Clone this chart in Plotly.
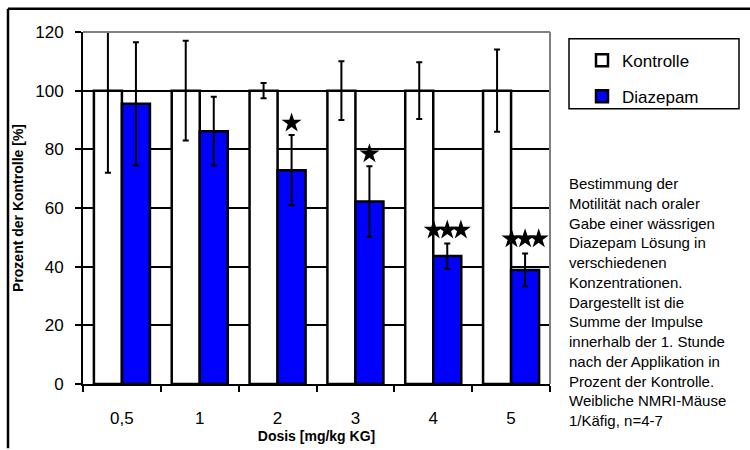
import plotly.graph_objects as go

# ---- data ----
categories = ["0,5", "1", "2", "3", "4", "5"]
kontrolle = [100, 100, 100, 100, 100, 100]
kontrolle_err = [28, 17, 2.6, 10, 9.7, 14]
diazepam = [95.5, 86.2, 72.9, 62.2, 43.6, 38.9]
diazepam_err = [21, 11.7, 12, 12, 4.3, 5.6]
star_count = [0, 0, 1, 1, 3, 3]
star_y = [None, None, 89, 78.5, 52.5, 49.5]
y_ticks = [0, 20, 40, 60, 80, 100, 120]
note_lines = [
    "Bestimmung der",
    "Motilität nach oraler",
    "Gabe einer wässrigen",
    "Diazepam Lösung in",
    "verschiedenen",
    "Konzentrationen.",
    "Dargestellt ist die",
    "Summe der Impulse",
    "innerhalb der 1. Stunde",
    "nach der Applikation in",
    "Prozent der Kontrolle.",
    "Weibliche NMRI-Mäuse",
    "1/Käfig, n=4-7",
]

W, H = 750, 450
ML, MR, MT, MB = 83, 200, 32, 56
PW, PH = W - ML - MR, H - MT - MB


def px(x):
    return (x - ML) / PW


def py(y):
    return (H - MB - y) / PH


n = len(categories)
xs = list(range(n))
FONT = "Liberation Sans, Arial, sans-serif"

fig = go.Figure()
fig.add_trace(go.Bar(
    x=xs, y=kontrolle, name="Kontrolle", legendgroup="k",
    marker=dict(color="white", line=dict(color="black", width=2.5)),
    error_y=dict(type="data", array=kontrolle_err, color="black", thickness=2, width=3),
))
fig.add_trace(go.Bar(
    x=xs, y=diazepam, name="Diazepam", legendgroup="d",
    marker=dict(color="#0000FF", line=dict(color="black", width=2.5)),
    error_y=dict(type="data", array=diazepam_err, color="black", thickness=2, width=3),
))

# significance stars above the Diazepam bars (offset = half a bar, stars side by side)
bar_off = 0.18
star_step = 0.175
sx, sy = [], []
for i, (c, yv) in enumerate(zip(star_count, star_y)):
    for k in range(c):
        sx.append(i + bar_off + (k - (c - 1) / 2) * star_step)
        sy.append(yv)
fig.add_trace(go.Scatter(
    x=sx, y=sy, mode="markers",
    marker=dict(symbol="star", size=15, color="black", line=dict(width=0)),
    showlegend=False, hoverinfo="skip",
))

fig.update_layout(
    width=W, height=H,
    margin=dict(l=ML, r=MR, t=MT, b=MB),
    paper_bgcolor="white", plot_bgcolor="white",
    barmode="group", bargap=0.28, bargroupgap=0,
    font=dict(family=FONT, color="black"),
    showlegend=True,
    legend=dict(
        x=px(582), y=py(43), xanchor="left", yanchor="top",
        font=dict(family=FONT, size=17, color="black"),
        bgcolor="rgba(0,0,0,0)", borderwidth=0,
        tracegroupgap=11, traceorder="grouped",
    ),
    xaxis=dict(
        range=[-0.5, n - 0.5], tickmode="array", tickvals=xs, ticktext=categories,
        ticks="", showgrid=False, zeroline=False,
        showline=True, linecolor="black", linewidth=2,
        tickfont=dict(family=FONT, size=17, color="black"),
        ticklabelstandoff=18,
        minor=dict(tickmode="array", tickvals=[i - 0.5 for i in range(n + 1)],
                   ticks="outside", ticklen=6, tickwidth=2, tickcolor="black", showgrid=False),
        title=dict(text="<b>Dosis [mg/kg KG]</b>", font=dict(family=FONT, size=14, color="black"), standoff=0),
    ),
    yaxis=dict(
        range=[0, 120], tickmode="array", tickvals=y_ticks,
        ticks="outside", ticklen=6, tickwidth=2, tickcolor="black",
        showgrid=True, gridcolor="black", gridwidth=1.5, zeroline=False,
        showline=True, linecolor="black", linewidth=2,
        tickfont=dict(family=FONT, size=17, color="black"),
        ticklabelstandoff=8,
        title=dict(text="<b>Prozent der Kontrolle [%]</b>", font=dict(family=FONT, size=14, color="black"), standoff=8),
    ),
)

shapes = [
    dict(type="line", xref="paper", yref="paper", x0=0, x1=1, y0=1, y1=1, line=dict(color="#808080", width=2), layer="above"),
    dict(type="line", xref="paper", yref="paper", x0=1, x1=1, y0=0, y1=1, line=dict(color="#808080", width=2), layer="above"),
    dict(type="line", xref="paper", yref="paper", x0=px(8), x1=px(760), y0=py(8), y1=py(8), line=dict(color="black", width=2.5)),
    dict(type="line", xref="paper", yref="paper", x0=px(8), x1=px(8), y0=py(8), y1=py(460), line=dict(color="black", width=2.5)),
    dict(type="rect", xref="paper", yref="paper", x0=px(569), x1=px(739), y0=py(39), y1=py(111),
         line=dict(color="black", width=1.5), fillcolor="rgba(0,0,0,0)"),
]
fig.update_layout(shapes=shapes)

for i, line in enumerate(note_lines):
    fig.add_annotation(
        xref="paper", yref="paper", x=px(567), y=py(188 + i * 20.3),
        xanchor="left", yanchor="middle", showarrow=False, text=line,
        font=dict(family=FONT, size=15, color="black"),
    )

fig.write_html("out.html")
